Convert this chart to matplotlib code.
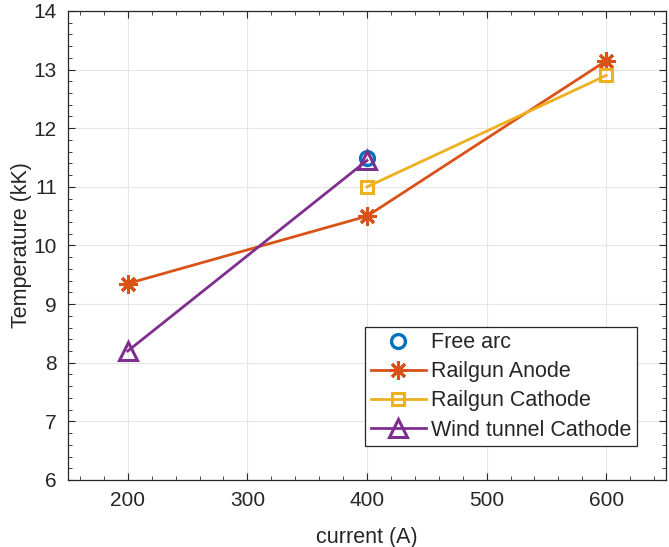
import matplotlib
matplotlib.use("Agg")
import matplotlib.pyplot as plt
from matplotlib.ticker import MultipleLocator

plt.rcParams["font.family"] = ["Liberation Sans", "DejaVu Sans"]

# data
free_arc_x = [400]
free_arc_y = [11.5]
anode_x = [200, 400, 600]
anode_y = [9.35, 10.5, 13.15]
cathode_x = [400, 600]
cathode_y = [11.0, 12.9]
wind_x = [200, 400]
wind_y = [8.2, 11.45]

fig = plt.figure(figsize=(6.69, 5.47), dpi=100)
ax = fig.add_axes([0.1016, 0.1225, 0.894, 0.8575])

ax.plot(free_arc_x, free_arc_y, "o", color="#0072BD", markersize=10,
        markerfacecolor="none", markeredgewidth=2.4, label="Free arc")
ax.plot(anode_x, anode_y, "-", marker=(8, 2, 0), color="#D95319",
        linewidth=2, markersize=13, markeredgewidth=2.2, label="Railgun Anode")
ax.plot(cathode_x, cathode_y, "-s", color="#EDB120", linewidth=2, markersize=9,
        markerfacecolor="none", markeredgewidth=2.2, label="Railgun Cathode")
ax.plot(wind_x, wind_y, "-^", color="#7E2F8E", linewidth=2, markersize=13,
        markerfacecolor="none", markeredgewidth=2.2, label="Wind tunnel Cathode")

ax.set_xlim(150, 650)
ax.set_ylim(6, 14)
ax.set_xticks([200, 300, 400, 500, 600])
ax.xaxis.set_minor_locator(MultipleLocator(20))
ax.yaxis.set_minor_locator(MultipleLocator(0.2))
ax.grid(True, which="major", color="#e6e6e6", linewidth=0.8)
ax.set_axisbelow(True)

ax.tick_params(which="both", direction="in", top=True, right=True,
               colors="#262626", labelsize=15)
ax.tick_params(which="major", length=5, pad=8)
ax.tick_params(which="minor", length=3)
for s in ax.spines.values():
    s.set_color("#262626")
    s.set_linewidth(0.9)

ax.set_xlabel("current (A)", fontsize=15.5, color="#262626", labelpad=12)
ax.set_ylabel("Temperature (kK)", fontsize=15.5, color="#262626", labelpad=1)

leg = ax.legend(loc="lower right", bbox_to_anchor=(0.951, 0.0725),
                fontsize=15.5, fancybox=False, framealpha=1,
                edgecolor="#262626", handlelength=2.55, handletextpad=0.25,
                borderpad=0.25, labelspacing=0.38, borderaxespad=0)
leg.get_frame().set_linewidth(0.9)
for t in leg.get_texts():
    t.set_color("#262626")

fig.savefig("out.png", dpi=100)
